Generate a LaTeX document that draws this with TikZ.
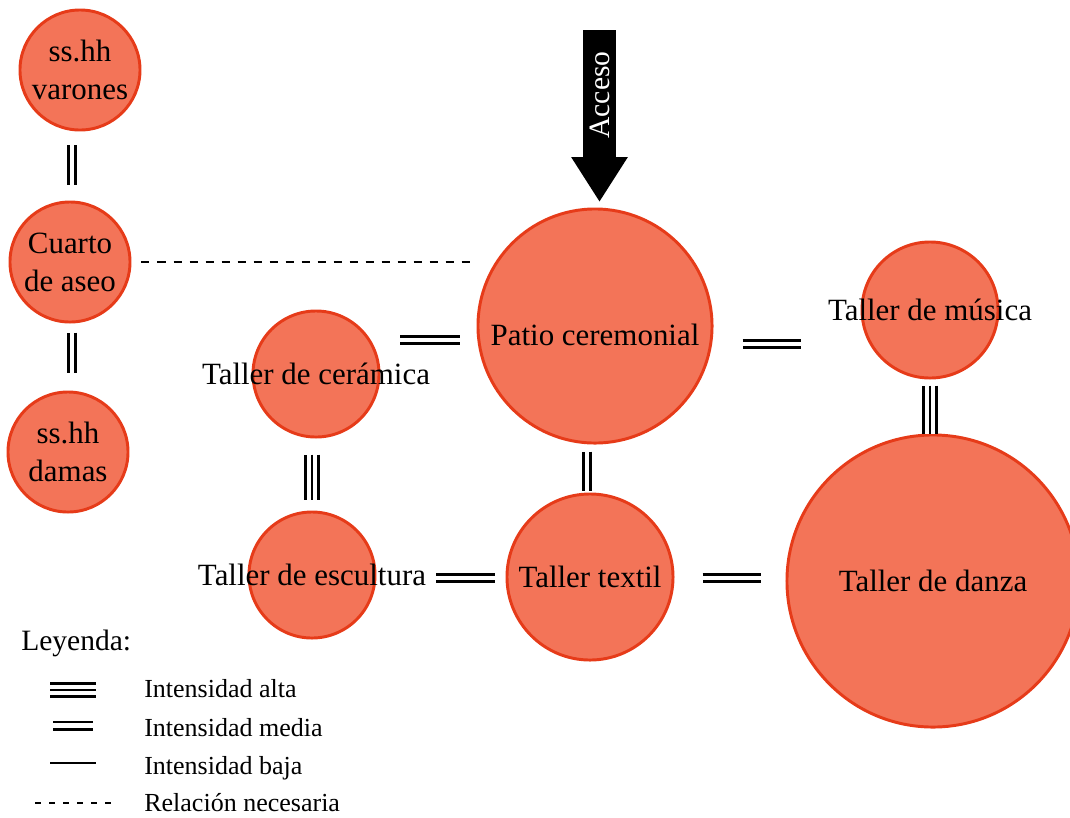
\documentclass[tikz,border=0pt]{standalone}
\usepackage{fontspec}
\setmainfont{Liberation Serif}
\usetikzlibrary{positioning, arrows.meta}

\definecolor{areafill}{HTML}{F37458}
\definecolor{areaedge}{HTML}{E63B19}

\begin{document}
\begin{tikzpicture}[
    x=0.025cm, y=-0.025cm,
    area/.style={circle, draw=areaedge, fill=areafill, line width=2.1pt, inner sep=0pt},
    lbl/.style={font=\fontsize{22}{27}\selectfont, align=center, text=black},
    baja/.style={line width=2pt},
    media/.style={line width=2.1pt, double distance=3.3pt},
    alta/.style={line width=2.1pt, double distance=6.9pt, postaction={draw, line width=2.1pt}},
    necesaria/.style={line width=2pt, dash pattern=on 0.2cm off 0.2cm},
    altaleg/.style={line width=1.9pt, double distance=7.8pt, postaction={draw, line width=1.9pt}},
    medialeg/.style={line width=1.9pt, double distance=3.3pt},
    necesarialeg/.style={line width=1.8pt, dash pattern=on 0.15cm off 0.2cm},
    acceso/.style={line width=0.83cm, -{Triangle[length=1.12cm, width=1.33cm]}},
    legtext/.style={anchor=west, inner sep=0pt, font=\fontsize{18.5}{22}\selectfont}
]
\useasboundingbox (0,0) rectangle (1070,817);

% Servicios higienicos
\node[area, minimum size=3cm, label={[lbl]center:ss.hh\\varones}] (varones) at (80,70) {};
\node[area, minimum size=3cm, label={[lbl]center:Cuarto\\de aseo}] (cuarto) at (70,262) {};
\node[area, minimum size=3cm, label={[lbl]center:ss.hh\\damas}] (damas) at (68,452) {};

% Talleres y patio
\node[area, minimum size=3.15cm, label={[lbl]center:Taller de cerámica}] (ceramica) at (316,374) {};
\node[area, minimum size=3.15cm, label={[lbl]center:Taller de escultura}] (escultura) at (312,575) {};
\node[area, minimum size=5.85cm, label={[lbl, yshift=-0.22cm]center:Patio ceremonial}] (patio) at (595,326) {};
\node[area, minimum size=4.15cm, label={[lbl]center:Taller textil}] (textil) at (590,577) {};
\node[area, minimum size=3.4cm, label={[lbl]center:Taller de música}] (musica) at (930,310) {};
\node[area, minimum size=7.3cm, label={[lbl]center:Taller de danza}] (danza) at (933,581) {};

% Acceso
\coordinate (accesotop) at (599.5,30);
\coordinate (accesotip) at (599.5,202);
\draw[acceso] (accesotop) -- (accesotip);
\node[rotate=90, text=white, font=\fontsize{21}{25}\selectfont] (accesolbl) at (599.5,95) {Acceso};

% Relaciones
\draw[media] (varones.south) ++(-8,14) -- ++(0,40);
\draw[media] (cuarto.south) ++(2,9) -- ++(0,40);
\draw[necesaria] (cuarto.east) ++(10,0) -- (cuarto.east -| patio.west);
\draw[media] (ceramica.east) ++(20,-34) -- ++(59,0);
\draw[media] (patio.east) ++(29,18) -- ++(58,0);
\draw[alta] (ceramica.south) ++(-4,16) -- ++(0,45);
\draw[media] (patio.south) ++(-8,7) -- ++(0,39);
\draw[alta] (musica.south) ++(0,6) -- ++(0,48);
\draw[media] (escultura.east) ++(60,3) -- ++(58,0);
\draw[media] (textil.east) ++(28,1) -- ++(58,0);

% Leyenda
\node[anchor=west, inner sep=0pt, font=\fontsize{21}{25}\selectfont] (leyenda) at (21,643) {Leyenda:};
\node[legtext] (la) at (144,689) {Intensidad alta};
\node[legtext] (lm) at (144,728) {Intensidad media};
\node[legtext] (lb) at (144,768) {Intensidad baja};
\node[legtext] (ln) at (144,803) {Relación necesaria};
\draw[altaleg] (la.west) ++(-94,1) -- ++(46,0);
\draw[medialeg] (lm.west) ++(-91,-2.5) -- ++(40,0);
\draw[baja] (lb.west) ++(-94,-5) -- ++(46,0);
\draw[necesarialeg] (ln.west) ++(-109,0) -- ++(78,0);

\end{tikzpicture}
\end{document}
